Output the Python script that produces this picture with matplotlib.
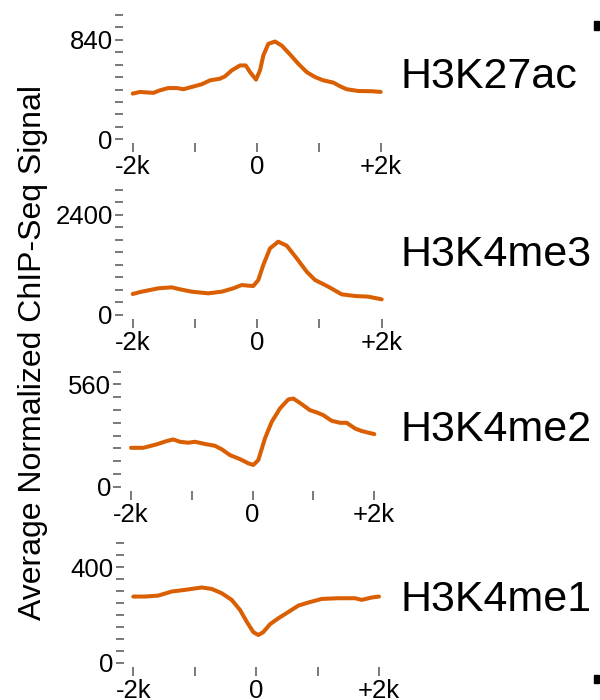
import numpy as np
import matplotlib
matplotlib.use("Agg")
import matplotlib.pyplot as plt
from matplotlib.patches import Rectangle

plt.rcParams['font.family']=['Liberation Sans','DejaVu Sans']

marks=["H3K27ac","H3K4me3","H3K4me2","H3K4me1"]

# position relative to TSS (bp) and average signal
h3k27ac_x=[-2000,-1882,-1668,-1560,-1426,-1290,-1184,-1048,-887,-753,-592,-511,-403,-269,-177,-108,-11,53,107,187,295,403,537,671,806,940,1074,1236,1344,1452,1639,1855,2000]
h3k27ac_y=[386,400,392,414,433,433,423,442,465,498,512,532,582,624,624,568,504,582,708,806,826,792,717,638,568,526,498,479,448,423,408,406,400]

h3k4me3_x=[-2000,-1855,-1589,-1373,-1240,-1052,-786,-570,-384,-249,-143,-63,18,98,206,339,474,635,795,929,1142,1357,1571,1785,2000]
h3k4me3_y=[504,560,640,664,616,560,520,560,640,720,704,696,840,1200,1600,1760,1664,1360,1040,840,680,496,456,440,376]

h3k4me2_x=[-2000,-1798,-1578,-1413,-1305,-1194,-1058,-948,-783,-619,-509,-372,-208,-71,11,93,203,313,450,586,668,778,943,1053,1161,1300,1436,1546,1683,1793,2000]
h3k4me2_y=[213,213,232,250,259,246,241,246,234,224,205,173,151,128,119,146,265,355,429,478,483,459,419,407,392,361,350,350,319,305,288]

h3k4me1_x=[-2000,-1810,-1593,-1375,-1158,-886,-724,-561,-398,-263,-154,-46,35,116,225,361,523,686,849,1067,1337,1609,1718,1881,2000]
h3k4me1_y=[277,277,281,298,305,315,309,291,263,221,172,128,116,128,161,186,212,239,252,267,270,270,263,273,277]

xs=[h3k27ac_x,h3k4me3_x,h3k4me2_x,h3k4me1_x]
ys=[h3k27ac_y,h3k4me3_y,h3k4me2_y,h3k4me1_y]
ylab_top=[840,2400,560,400]   # labelled y tick
ystep=[105,300,70,50]         # minor tick step
ymax=[1050,3000,630,500]

# panel placement in pixels: x of -2k, x of +2k, y of top tick, y of zero
pix=[(132.7,380.7,15,139.3),(132.7,381.7,190,315),(131,374.3,371.7,486.7),(133.3,379,543.3,662.7)]
label_y=[77,255,430,600]

W,H=600,700
fig=plt.figure(figsize=(6,7),dpi=100)
for i in range(4):
    x0,x1,yt,yz=pix[i]
    ax=fig.add_axes([x0/W,1-yz/H,(x1-x0)/W,(yz-yt)/H])
    ax.plot(xs[i],ys[i],color="#D95F02",lw=2.9,solid_capstyle="round",solid_joinstyle="round",clip_on=False)
    ax.set_xlim(-2000,2000);ax.set_ylim(0,ymax[i])
    ax.set_xticks([-2000,-1000,0,1000,2000])
    ax.set_xticklabels(["-2k","","0","","+2k"])
    ax.set_yticks([0,ylab_top[i]])
    ax.set_yticklabels(["0",str(ylab_top[i])])
    ax.set_yticks(np.arange(0,ymax[i]+1,ystep[i]),minor=True)
    for s in ["top","right"]: ax.spines[s].set_visible(False)
    ax.spines["left"].set_position(("outward",7))
    ax.spines["bottom"].set_position(("outward",3))
    ax.spines["left"].set_color("none");ax.spines["bottom"].set_color("none")
    ax.tick_params(axis="y",which="both",length=5.8,width=1.1,color="#555555",pad=1.5,labelsize=18.5)
    ax.tick_params(axis="x",length=6.5,width=1.1,color="#555555",pad=2,labelsize=18.5)
    ax.patch.set_alpha(0)
    fig.text(400/W,1-label_y[i]/H,marks[i],fontsize=31,ha="left",va="center")

fig.text(33/W,1-352/H,"Average Normalized ChIP-Seq Signal",rotation=90,fontsize=23,ha="center",va="center")
fig.patches.append(Rectangle((594/W,1-30/H),5/W,9/H,transform=fig.transFigure,color="black"))
fig.patches.append(Rectangle((594/W,1-683/H),5/W,8/H,transform=fig.transFigure,color="black"))
fig.savefig("out.png",dpi=100)
